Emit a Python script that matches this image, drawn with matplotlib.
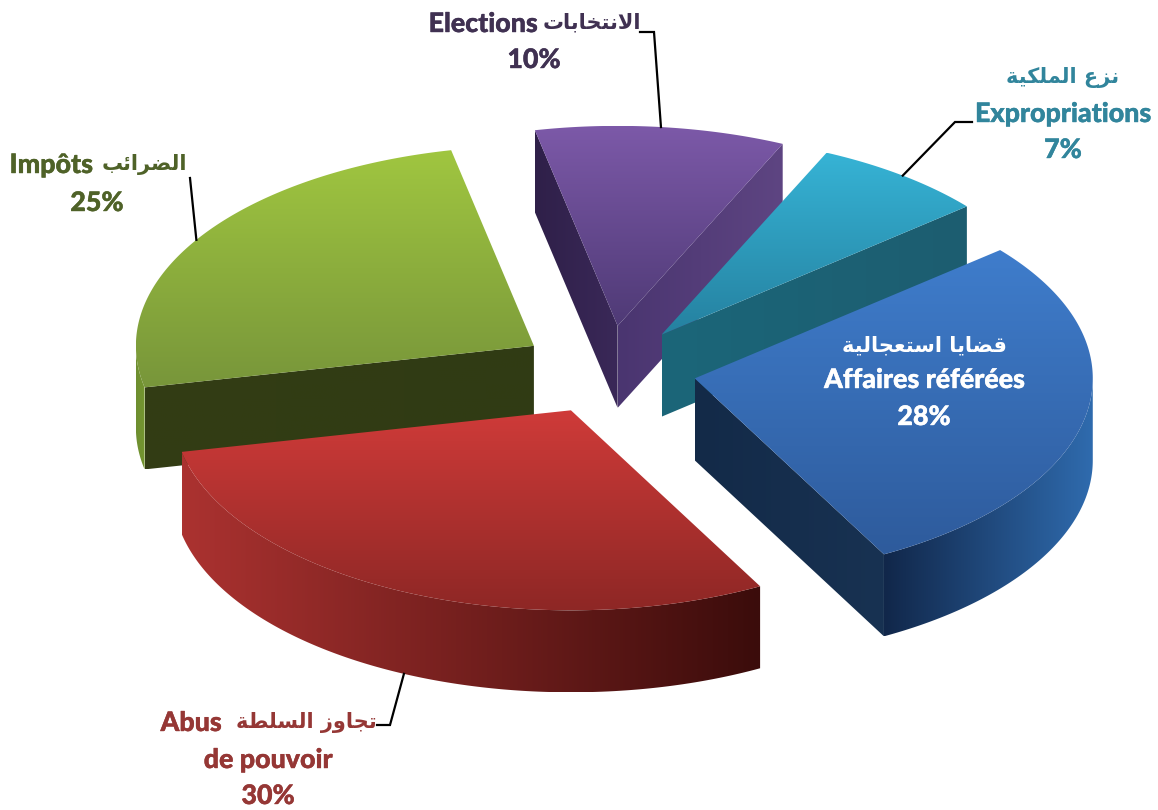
import numpy as np
import matplotlib
matplotlib.use("Agg")
import matplotlib.pyplot as plt
import matplotlib.patheffects as pe
from matplotlib.colors import to_rgb
from matplotlib.patches import Polygon

# ---------- data ----------
names_fr = ["Affaires référées", "Abus", "de pouvoir", "Impôts", "Elections", "Expropriations"]
names_ar = ["قضايا استعجالية", "تجاوز السلطة", "الضرائب", "الانتخابات", "نزع الملكية"]
shares = [28.2, 29.55, 25.0, 10.14, 7.11]
share_labels = ["28%", "30%", "25%", "10%", "7%"]

# ---------- Arabic shaping (matplotlib draws glyphs left to right, unshaped) ----------
FORMS = {
    'ا': (0xFE8D, 0xFE8E, None, None), 'ب': (0xFE8F, 0xFE90, 0xFE91, 0xFE92),
    'ة': (0xFE93, 0xFE94, None, None), 'ت': (0xFE95, 0xFE96, 0xFE97, 0xFE98),
    'ج': (0xFE9D, 0xFE9E, 0xFE9F, 0xFEA0), 'خ': (0xFEA5, 0xFEA6, 0xFEA7, 0xFEA8),
    'ر': (0xFEAD, 0xFEAE, None, None), 'ز': (0xFEAF, 0xFEB0, None, None),
    'س': (0xFEB1, 0xFEB2, 0xFEB3, 0xFEB4), 'ض': (0xFEBD, 0xFEBE, 0xFEBF, 0xFEC0),
    'ط': (0xFEC1, 0xFEC2, 0xFEC3, 0xFEC4), 'ع': (0xFEC9, 0xFECA, 0xFECB, 0xFECC),
    'ق': (0xFED5, 0xFED6, 0xFED7, 0xFED8), 'ك': (0xFED9, 0xFEDA, 0xFEDB, 0xFEDC),
    'ل': (0xFEDD, 0xFEDE, 0xFEDF, 0xFEE0), 'م': (0xFEE1, 0xFEE2, 0xFEE3, 0xFEE4),
    'ن': (0xFEE5, 0xFEE6, 0xFEE7, 0xFEE8), 'و': (0xFEED, 0xFEEE, None, None),
    'ي': (0xFEF1, 0xFEF2, 0xFEF3, 0xFEF4), 'ئ': (0xFE89, 0xFE8A, 0xFE8B, 0xFE8C),
}


def shape(s):
    out = []
    for w in s.split(' '):
        res = []
        i = 0
        prev_joins = False
        while i < len(w):
            c = w[i]
            if c == 'ل' and i + 1 < len(w) and w[i + 1] == 'ا':
                res.append(chr(0xFEFC if prev_joins else 0xFEFB))
                prev_joins = False
                i += 2
                continue
            f = FORMS[c]
            can_next = f[2] is not None and i + 1 < len(w)
            if prev_joins and can_next:
                g = f[3]
            elif prev_joins:
                g = f[1]
            elif can_next:
                g = f[2]
            else:
                g = f[0]
            res.append(chr(g))
            prev_joins = can_next
            i += 1
        out.append(''.join(reversed(res)))
    return ' '.join(reversed(out))


# ---------- geometry and style ----------
W, H = 1158, 810
CX, CY, RX, RY = 608, 370, 398, 200
DEPTH, EXPLODE, START = 82, 0.222, 39.9

top_cols = [("#3f7dcc", "#2e5b9c"), ("#cf3b39", "#8e2725"), ("#a0c640", "#78963a"),
            ("#7c59a8", "#4f3a76"), ("#36b3d5", "#2581a0")]
start_face = [None, None, ("#333d14", "#303b14"), ("#2f2049", "#3a2858"), None]
end_face = [("#132a48", "#183252"), None, None, ("#4a3570", "#5e4582"), ("#1b6679", "#1d5d70")]
arc_cols = [("#11274a", "#2f6bae"), ("#ab3230", "#3b0c0b"), ("#6d8e30", "#75962f"), None, None]
draw_order = [3, 4, 2, 0, 1]

DARK = ["white", "#953735", "#4F6228", "#403152", "#31859C"]
# (text, colour index, centre x, baseline y, is_arabic)
runs = [
    (names_ar[0], 0, 924, 351, True), (names_fr[0], 0, 924, 388, False), (share_labels[0], 0, 924, 425, False),
    (names_fr[1], 1, 191, 731, False), (names_ar[1], 1, 306, 728, True),
    (names_fr[2], 1, 268, 768, False), (share_labels[1], 1, 268, 804, False),
    (names_fr[3], 2, 51, 173, False), (names_ar[2], 2, 144, 170, True), (share_labels[2], 2, 97, 211, False),
    (names_fr[4], 3, 483, 32, False), (names_ar[3], 3, 592, 28, True), (share_labels[3], 3, 534, 68, False),
    (names_ar[4], 4, 1063, 83, True), (names_fr[5], 4, 1063, 122, False), (share_labels[4], 4, 1063, 158, False),
]
leader_shift = [0, 0, 1.0, 0.0, 0]
leader_elbows = [None,
                 [(390, 725), (377, 725)],
                 [(190, 178)],
                 [(654, 32), (640, 32)],
                 [(955, 122), (972, 122)]]
leader_bottom = [False, True, False, False, False]

fig = plt.figure(figsize=(W / 100, H / 100), dpi=100, facecolor="white")
ax = fig.add_axes([0, 0, 1, 1])
ax.set_xlim(0, W)
ax.set_ylim(H, 0)
ax.axis("off")


def paint(poly, c0, c1, horizontal, z):
    poly = np.asarray(poly)
    x0, x1 = poly[:, 0].min(), poly[:, 0].max()
    y0, y1 = poly[:, 1].min(), poly[:, 1].max()
    t = np.linspace(0, 1, 128)[:, None]
    ramp = (1 - t) * np.array(to_rgb(c0)) + t * np.array(to_rgb(c1))
    img = ramp[None, :, :] if horizontal else ramp[:, None, :]
    im = ax.imshow(img, extent=(x0, x1, y1, y0), origin="upper", aspect="auto",
                   zorder=z, interpolation="bilinear")
    patch = Polygon(poly, closed=True, transform=ax.transData, facecolor="none", edgecolor="none")
    ax.add_patch(patch)
    im.set_clip_path(patch)


spans = np.array(shares) / sum(shares) * 360
t_start = START - np.concatenate(([0], np.cumsum(spans)[:-1]))
t_end = t_start - spans
t_mid = (t_start + t_end) / 2


def ring(t, ax0, ay0):
    r = np.radians(t)
    return np.column_stack((ax0 + RX * np.cos(r), ay0 - RY * np.sin(r)))


def apex_of(i):
    m = np.radians(t_mid[i])
    return np.array([CX + EXPLODE * RX * np.cos(m), CY - EXPLODE * RY * np.sin(m)])


z = 2
down = np.array([0, DEPTH])
for i in draw_order:
    apex = apex_of(i)
    arc = ring(np.linspace(t_start[i], t_end[i], 160), *apex)
    if arc_cols[i]:
        ts = np.linspace(t_start[i], t_end[i], 300)
        ts = ts[np.sin(np.radians(ts)) <= 0]
        rim = ring(ts, *apex)
        paint(np.vstack((rim, (rim + down)[::-1])), *arc_cols[i], True, z)
        z += 1
    for edge_t, cols in ((t_start[i], start_face[i]), (t_end[i], end_face[i])):
        if cols:
            p = ring(np.array([edge_t]), *apex)[0]
            paint(np.array([apex, p, p + down, apex + down]), *cols, True, z)
            z += 1
    paint(np.vstack((apex, arc)), *top_cols[i], False, z)
    z += 1

for txt, ci, x, y, is_ar in runs:
    if is_ar:
        ax.text(x, y, shape(txt), ha="center", va="baseline", color=DARK[ci], fontsize=15,
                fontweight="bold", family="DejaVu Sans", zorder=100)
    else:
        t = ax.text(x, y, txt, ha="center", va="baseline", color=DARK[ci], fontsize=19.3,
                    fontweight=900, family="Lato", zorder=100)
        t.set_path_effects([pe.withStroke(linewidth=0.3, foreground=DARK[ci])])

for i in range(len(shares)):
    if leader_elbows[i]:
        p = ring(np.array([t_mid[i] + leader_shift[i]]), *apex_of(i))[0]
        if leader_bottom[i]:
            p = p + down
        pts = np.vstack((p, leader_elbows[i]))
        ax.plot(pts[:, 0], pts[:, 1], color="black", lw=1.6, zorder=99, solid_joinstyle="miter")

ax.set_xlim(0, W)
ax.set_ylim(H, 0)
fig.savefig("out.png", dpi=100, facecolor="white")
